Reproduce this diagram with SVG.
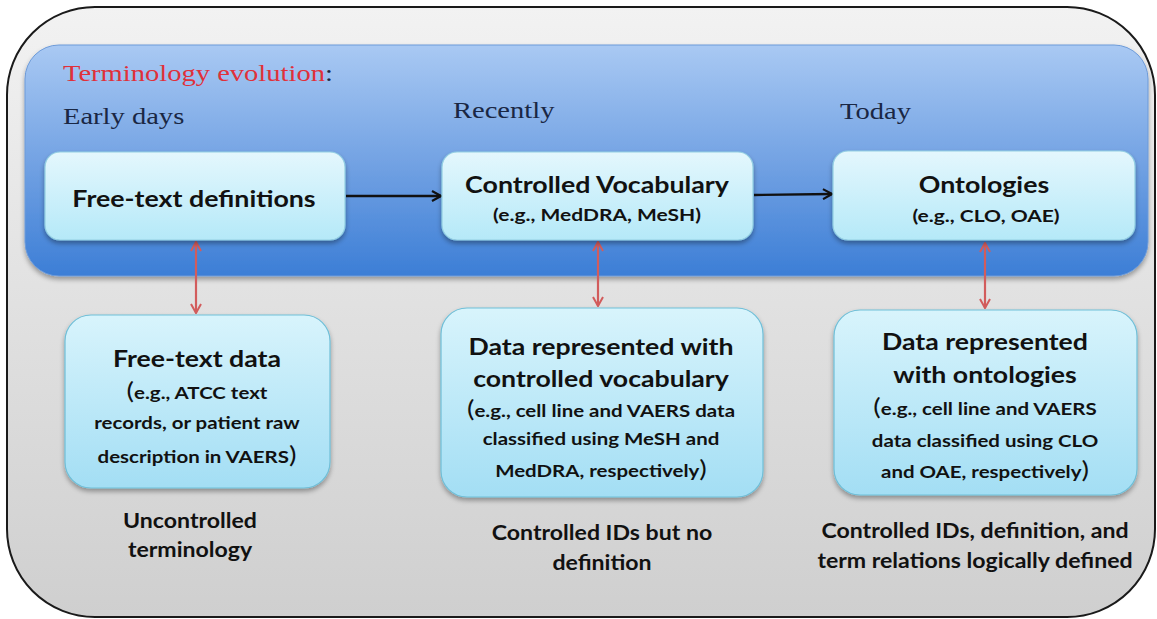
<svg xmlns="http://www.w3.org/2000/svg" width="1157" height="619" viewBox="0 0 1157 619">
  <defs>
    <linearGradient id="gOuter" x1="0" y1="0" x2="0" y2="1">
      <stop offset="0" stop-color="#f2f2f2"/>
      <stop offset="1" stop-color="#cfcfcf"/>
    </linearGradient>
    <linearGradient id="gPanel" x1="0" y1="0" x2="0" y2="1">
      <stop offset="0" stop-color="#a9c9f3"/>
      <stop offset="0.55" stop-color="#6e9fe2"/>
      <stop offset="1" stop-color="#3c7ed6"/>
    </linearGradient>
    <linearGradient id="gTop" x1="0" y1="0" x2="0" y2="1">
      <stop offset="0" stop-color="#e4f7fd"/>
      <stop offset="1" stop-color="#b5e9f8"/>
    </linearGradient>
    <linearGradient id="gBottom" x1="0" y1="0" x2="0" y2="1">
      <stop offset="0" stop-color="#d8f4fc"/>
      <stop offset="1" stop-color="#a3def4"/>
    </linearGradient>
    <filter id="shadow" x="-10%" y="-10%" width="120%" height="130%">
      <feGaussianBlur in="SourceAlpha" stdDeviation="2.5"/>
      <feOffset dx="0" dy="3" result="b"/>
      <feComponentTransfer><feFuncA type="linear" slope="0.35"/></feComponentTransfer>
      <feMerge><feMergeNode/><feMergeNode in="SourceGraphic"/></feMerge>
    </filter>
    <marker id="headBlack" viewBox="0 0 12 12" refX="11" refY="6" markerWidth="12" markerHeight="12" markerUnits="userSpaceOnUse" orient="auto">
      <path d="M2 1 L11 6 L2 11" fill="none" stroke="#111" stroke-width="2.2"/>
    </marker>
    <marker id="headRed" viewBox="0 0 12 12" refX="11" refY="6" markerWidth="12" markerHeight="12" markerUnits="userSpaceOnUse" orient="auto-start-reverse">
      <path d="M2 1 L11 6 L2 11" fill="none" stroke="#d25c5c" stroke-width="2"/>
    </marker>
  </defs>
  <style>
    .serif { font-family: "Liberation Serif", "Times New Roman", serif; font-size: 24px; fill: #1a2744; }
    .title { fill: #e0303a; }
    .box-top { fill: url(#gTop); stroke: #93cfe2; stroke-width: 1.2; filter: url(#shadow); }
    .box-bot { fill: url(#gBottom); stroke: #6fbfd8; stroke-width: 1.2; filter: url(#shadow); }
    .lbl { font-family: Lato, "Liberation Sans", sans-serif; font-weight: bold; fill: #111; text-anchor: middle; }
    .big { font-size: 22.5px; }
    .head { font-size: 23px; }
    .sub { font-size: 17.5px; }
    .par { font-size: 24px; font-weight: normal; }
    .note { font-family: Lato, "Liberation Sans", sans-serif; font-weight: bold; font-size: 21px; fill: #111; text-anchor: middle; }
    .flow { stroke: #111; stroke-width: 2.4; fill: none; marker-end: url(#headBlack); }
    .link { stroke: #d25c5c; stroke-width: 2.2; fill: none; marker-start: url(#headRed); marker-end: url(#headRed); }
  </style>

  <!-- outer frame -->
  <rect id="frame" x="7" y="7" width="1148" height="610" rx="88" ry="88" fill="url(#gOuter)" stroke="#1a1a1a" stroke-width="2"/>

  <!-- blue band with the evolution row -->
  <rect id="band" x="25" y="45" width="1123" height="231" rx="34" ry="34" fill="url(#gPanel)" stroke="#6d9bd9" stroke-width="1" filter="url(#shadow)"/>

  <g id="headings">
    <text class="serif" transform="translate(63 81) scale(1.19 1)"><tspan class="title">Terminology evolution</tspan>:</text>
    <text class="serif" transform="translate(63 124) scale(1.19 1)">Early days</text>
    <text class="serif" transform="translate(453 118) scale(1.19 1)">Recently</text>
    <text class="serif" transform="translate(840 119) scale(1.19 1)">Today</text>
  </g>

  <g id="connectors">
    <line class="flow" x1="346" y1="196" x2="441" y2="196"/>
    <line class="flow" x1="754" y1="195" x2="832" y2="194"/>
    <line class="link" x1="196" y1="242" x2="196" y2="313"/>
    <line class="link" x1="598" y1="242" x2="598" y2="306"/>
    <line class="link" x1="985" y1="243" x2="985" y2="308"/>
  </g>

  <g id="free-text-definitions">
    <rect class="box-top" x="45" y="152" width="300" height="88" rx="15" ry="15"/>
    <text class="lbl big" transform="translate(194 207) scale(1.19 1)">Free-text definitions</text>
  </g>

  <g id="controlled-vocabulary">
    <rect class="box-top" x="442" y="152" width="311" height="88" rx="15" ry="15"/>
    <text class="lbl big" transform="translate(597 193) scale(1.19 1)">Controlled Vocabulary</text>
    <text class="lbl sub" transform="translate(597 221) scale(1.2 1)">(e.g., MedDRA, MeSH)</text>
  </g>

  <g id="ontologies">
    <rect class="box-top" x="833" y="151" width="302" height="89" rx="15" ry="15"/>
    <text class="lbl big" transform="translate(984 193) scale(1.19 1)">Ontologies</text>
    <text class="lbl sub" transform="translate(986 222) scale(1.2 1)">(e.g., CLO, OAE)</text>
  </g>

  <g id="free-text-data">
    <rect class="box-bot" x="65" y="315" width="265" height="173" rx="26" ry="26"/>
    <text class="lbl head" transform="translate(197 367) scale(1.16 1)">Free-text data</text>
    <text class="lbl sub" transform="translate(197 399) scale(1.17 1)"><tspan class="par">(</tspan>e.g., ATCC text</text>
    <text class="lbl sub" transform="translate(197 429) scale(1.17 1)">records, or patient raw</text>
    <text class="lbl sub" transform="translate(197 463) scale(1.17 1)">description in VAERS<tspan class="par">)</tspan></text>
  </g>

  <g id="data-controlled-vocabulary">
    <rect class="box-bot" x="441" y="308" width="322" height="189" rx="26" ry="26"/>
    <text class="lbl head" transform="translate(601 355) scale(1.16 1)">Data represented with</text>
    <text class="lbl head" transform="translate(601 387) scale(1.16 1)">controlled vocabulary</text>
    <text class="lbl sub" transform="translate(601 417) scale(1.17 1)"><tspan class="par">(</tspan>e.g., cell line and VAERS data</text>
    <text class="lbl sub" transform="translate(601 445) scale(1.17 1)">classified using MeSH and</text>
    <text class="lbl sub" transform="translate(601 477) scale(1.17 1)">MedDRA, respectively<tspan class="par">)</tspan></text>
  </g>

  <g id="data-ontologies">
    <rect class="box-bot" x="834" y="310" width="303" height="185" rx="26" ry="26"/>
    <text class="lbl head" transform="translate(985 350) scale(1.16 1)">Data represented</text>
    <text class="lbl head" transform="translate(985 383) scale(1.16 1)">with ontologies</text>
    <text class="lbl sub" transform="translate(985 415) scale(1.17 1)"><tspan class="par">(</tspan>e.g., cell line and VAERS</text>
    <text class="lbl sub" transform="translate(985 447) scale(1.17 1)">data classified using CLO</text>
    <text class="lbl sub" transform="translate(985 478) scale(1.17 1)">and OAE, respectively<tspan class="par">)</tspan></text>
  </g>

  <g id="captions">
    <text class="note" transform="translate(190 528) scale(1.1 1)">Uncontrolled</text>
    <text class="note" transform="translate(190 557) scale(1.1 1)">terminology</text>
    <text class="note" transform="translate(602 540) scale(1.1 1)">Controlled IDs but no</text>
    <text class="note" transform="translate(602 570) scale(1.1 1)">definition</text>
    <text class="note" transform="translate(975 538) scale(1.1 1)">Controlled IDs, definition, and</text>
    <text class="note" transform="translate(975 568) scale(1.1 1)">term relations logically defined</text>
  </g>
</svg>
